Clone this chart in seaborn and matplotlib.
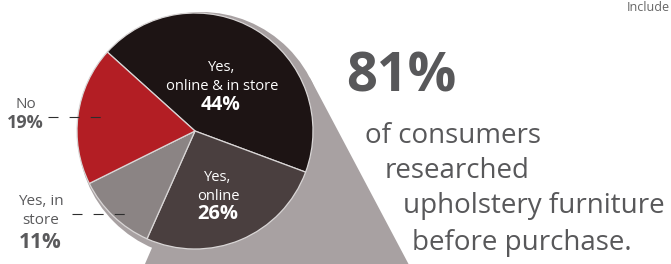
#! /usr/bin/env python3
# -*- coding: utf-8 -*-

import matplotlib
matplotlib.use('Agg')
import matplotlib.pyplot as plt
import numpy as np
import seaborn as sns
from matplotlib.patches import Circle, Polygon

# data
labels = ['Yes,\nonline & in store', 'Yes,\nonline', 'Yes, in\nstore', 'No']
shares = [44, 26, 11, 19]
colors = ['#1d1414', '#4a3f3f', '#8b8484', '#b31e24']
headline = '81%'
caption = ['of consumers', 'researched', 'upholstery furniture', 'before purchase.']

sns.set_theme(style='white')
plt.rcParams['font.family'] = ['Open Sans', 'DejaVu Sans']

W, H = 671, 264
fig = plt.figure(figsize=(W/100, H/100), dpi=100)
ax = fig.add_axes([0, 0, 1, 1])

def py(y):
    # pixel row -> data y
    return H - y

cx, cy, r = 195, 131, 118
shade = '#a8a1a2'

# shadow / magnifier cone behind the pie
sc = np.array([201.0, py(135)])
sr = 123
tip = np.array([417.0, py(280)])
d = tip - sc
a = np.arctan2(d[1], d[0])
b = np.arccos(sr / np.hypot(*d))
tang = sc + sr*np.array([np.cos(a + b), np.sin(a + b)])
ax.add_patch(Circle(sc, sr, color=shade, zorder=0, lw=0))
ax.add_patch(Polygon([sc, tang, tip, (138, py(280))],
                     closed=True, color=shade, zorder=0, lw=0))

wedges, _ = ax.pie(shares, colors=colors, startangle=138, counterclock=False,
                   center=(cx, py(cy)), radius=r, frame=True,
                   wedgeprops=dict(edgecolor='#d9d6d6', linewidth=0.9))
for w in wedges:
    w.set_zorder(2)

# labels inside slices
white = dict(color='white', ha='center', va='center', zorder=5)
ax.text(222, py(77), labels[0], fontsize=10.5, linespacing=1.3, **white)
ax.text(221, py(105), f'{shares[0]}%', fontsize=14, fontweight='bold', **white)
ax.text(218, py(187), labels[1], fontsize=10.5, linespacing=1.3, **white)
ax.text(218, py(214), f'{shares[1]}%', fontsize=14.5, fontweight='bold', **white)

# labels outside
grey = dict(color='#5a5a5c', ha='center', va='center', zorder=5)
ax.text(26, py(105), labels[3], fontsize=11, **grey)
ax.text(25, py(123), f'{shares[3]}%', fontsize=13, fontweight='bold', **grey)
ax.text(41, py(211), labels[2], fontsize=11, linespacing=1.4, **grey)
ax.text(40, py(243), f'{shares[2]}%', fontsize=15, fontweight='bold', **grey)

dash = dict(color='#2e2e2e', lw=0.8, ls=(0, (9, 10)), zorder=5)
ax.plot([48, 102], [py(117), py(117)], **dash)
ax.plot([72, 125], [py(214), py(214)], **dash)

# headline text
txt = '#58585a'
ax.text(346, py(92), headline, fontsize=39, fontweight='bold', color=txt,
        ha='left', va='baseline')
xs = [365, 385, 403, 412]
ys = [143, 178, 213, 250]
for s, x, y in zip(caption, xs, ys):
    ax.text(x, py(y), s, fontsize=20, color=txt, ha='left', va='baseline')

ax.text(670, py(11), 'Include', fontsize=9, color='#666666', ha='right', va='baseline')

ax.set_xlim(0, W)
ax.set_ylim(0, H)
ax.set_aspect('auto')
ax.axis('off')

fig.savefig('out.png', dpi=100)
